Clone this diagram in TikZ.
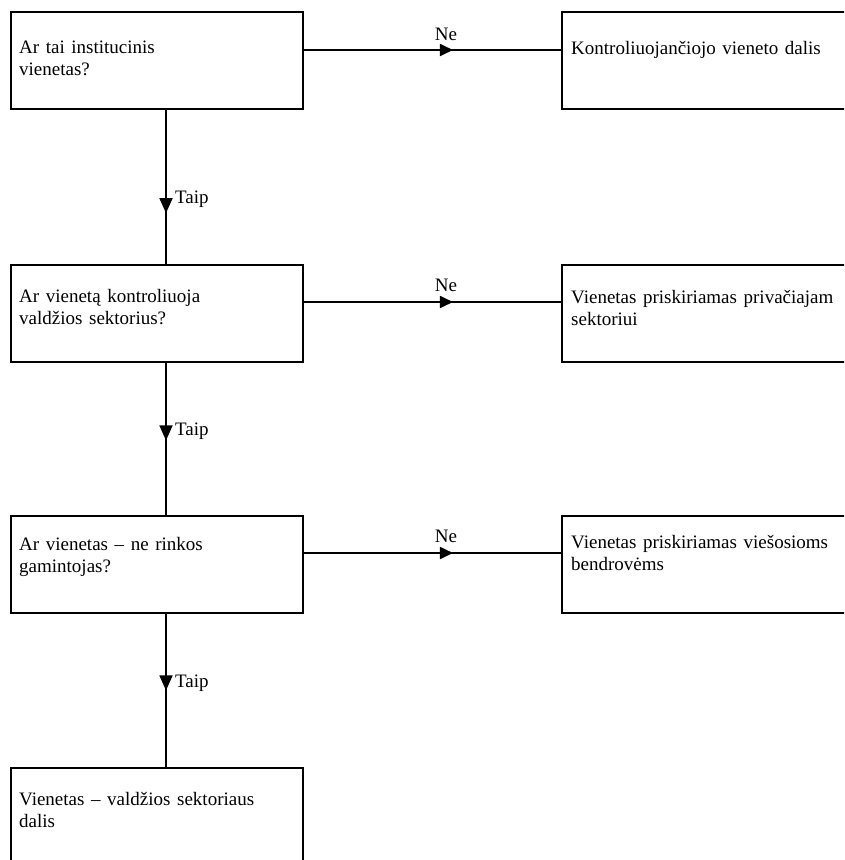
\documentclass[tikz,border=0pt]{standalone}
\usepackage{fontspec}
\setmainfont{Liberation Serif}
\usetikzlibrary{arrows.meta,decorations.markings}
\newcommand\wordsp{\spaceskip=6.6pt plus 2pt minus 1pt\relax}
\begin{document}
\begin{tikzpicture}[x=1pt,y=-1pt,
  box/.style={draw,line width=1.8pt,rectangle,minimum width=292pt,minimum height=97pt,inner sep=0pt,anchor=north west},
  rbox/.style={box,minimum width=300pt},
  txt/.style={anchor=base west,align=left,inner sep=0pt,font=\fontsize{19}{22}\selectfont\wordsp},
  lbl/.style={inner sep=0pt,font=\fontsize{19}{22}\selectfont},
  conn/.style={line width=1.8pt},
  marrow/.style={postaction={decorate},decoration={markings,mark=at position #1 with {\arrow{Triangle[length=15pt,width=13pt]}}}},
  harrow/.style={postaction={decorate},decoration={markings,mark=at position #1 with {\arrow{Triangle[length=13pt,width=12pt]}}}}
]
\clip (0,0) rectangle (844,860);
\useasboundingbox (0,0) rectangle (844,860);
\coordinate (vx) at (166,0);

\node[box] (b1) at (10,11) {};
\node[box] (b2) at (10,264) {};
\node[box] (b3) at (10,515) {};
\node[box] (b4) at (10,767) {};
\node[rbox] (r1) at (561,11) {};
\node[rbox] (r2) at (561,264) {};
\node[rbox] (r3) at (561,515) {};

\node[txt] (t1) at (19,75) {Ar tai institucinis\\vienetas?};
\node[txt] (t2) at (19,324) {Ar vienetą kontroliuoja\\valdžios sektorius?};
\node[txt] (t3) at (19,572) {Ar vienetas -- ne rinkos\\gamintojas?};
\node[txt] (t4) at (19,827) {Vienetas -- valdžios sektoriaus\\dalis};
\node[txt] (s1) at (571,54) {Kontroliuojančiojo vieneto dalis};
\node[txt] (s2) at (571,325) {Vienetas priskiriamas privačiajam\\sektoriui};
\node[txt] (s3) at (571,570) {Vienetas priskiriamas viešosioms\\bendrovėms};

\draw[conn,marrow=0.67] (b1.south -| vx) -- (b2.north -| vx);
\draw[conn,marrow=0.51] (b2.south -| vx) -- (b3.north -| vx);
\draw[conn,marrow=0.5] (b3.south -| vx) -- (b4.north -| vx);
\draw[conn,harrow=0.58] (b1.east |- 0,50) -- (r1.west |- 0,50);
\draw[conn,harrow=0.58] (b2.east |- 0,302) -- (r2.west |- 0,302);
\draw[conn,harrow=0.58] (b3.east |- 0,553) -- (r3.west |- 0,553);

\node[lbl,anchor=base] (n1) at (446,40) {Ne};
\node[lbl,anchor=base] (n2) at (446,291) {Ne};
\node[lbl,anchor=base] (n3) at (446,542) {Ne};
\node[lbl,anchor=base west] (y1) at (175,203) {Taip};
\node[lbl,anchor=base west] (y2) at (175,435) {Taip};
\node[lbl,anchor=base west] (y3) at (175,687) {Taip};
\end{tikzpicture}
\end{document}
